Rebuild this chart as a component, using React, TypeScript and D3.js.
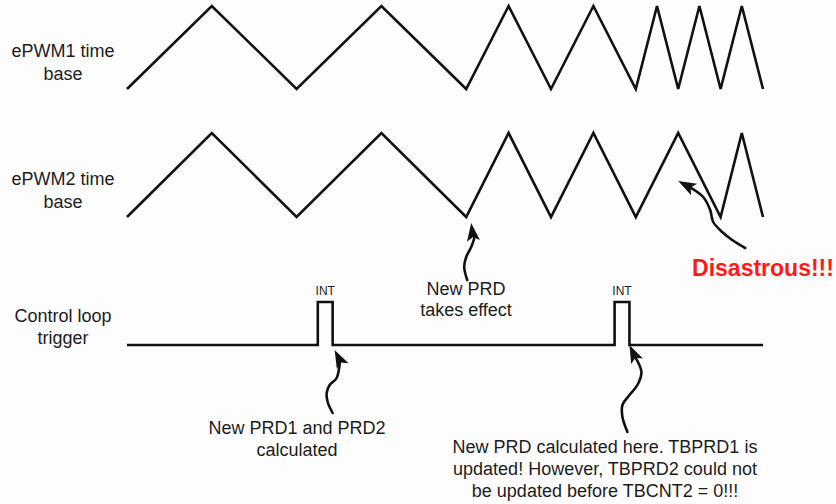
import React from "react";
import * as d3 from "d3";

// time in units of a quarter of the original half-period
const pwm1Times = [0, 4, 8, 12, 16, 18, 20, 22, 24, 25, 26, 27, 28, 29, 30];
const pwm1Levels = [0, 1, 0, 1, 0, 1, 0, 1, 0, 1, 0, 1, 0, 1, 0];
const pwm2Times = [0, 4, 8, 12, 16, 18, 20, 22, 24, 26, 28, 29, 30];
const pwm2Levels = [0, 1, 0, 1, 0, 1, 0, 1, 0, 1, 0, 1, 0];
const intStarts = [9, 23];
const intWidth = 0.7;
const laneLabels = [["ePWM1 time", "base"], ["ePWM2 time", "base"], ["Control loop", "trigger"]];

const W = 836;
const H = 504;
const FONT = "'Liberation Sans', Arial, sans-serif";

const x = d3.scaleLinear().domain([0, 30]).range([127, 763]);
const y1 = d3.scaleLinear().domain([0, 1]).range([89, 6]);
const y2 = d3.scaleLinear().domain([0, 1]).range([217, 133]);
const y3 = d3.scaleLinear().domain([0, 1]).range([345, 302]);

// hand drawn arrows: head direction, then the wavy tail (pixel offsets from tip)
const arrows: [number, number][][] = [
  [[1, 8], [1, 8], [3, 14], [0, 24], [-5, 34], [-7, 44], [-4, 57]],
  [[19, 10], [19, 11], [25, 16], [32, 29], [35, 41], [44, 51], [54, 59], [67, 67]],
  [[8, 16], [7, 18], [2, 28], [-5, 35], [-8, 43], [-7, 52], [-2, 63]],
  [[7, 15], [8, 17], [12, 27], [8, 40], [0, 50], [-7, 60], [-7, 72], [-2, 87]]
];
const arrowTips: [number, number][] = [
  [x(16) + 5, y2(0) + 6],
  [x(26), 181],
  [x(9 + intWidth) + 2, y3(0) + 5],
  [x(23 + intWidth) + 0, y3(0) + 0]
];

const App: React.FC = () => {
  const line = d3.line<[number, number]>().x(d => d[0]).y(d => d[1]);
  const smooth = d3.line<[number, number]>().x(d => d[0]).y(d => d[1]).curve(d3.curveCatmullRom);

  const pwm1 = pwm1Times.map((t, i) => [x(t), y1(pwm1Levels[i])] as [number, number]);
  const pwm2 = pwm2Times.map((t, i) => [x(t), y2(pwm2Levels[i])] as [number, number]);

  const trig: [number, number][] = [[x(0), y3(0)]];
  intStarts.forEach(s => {
    trig.push([x(s), y3(0)], [x(s), y3(1)], [x(s + intWidth), y3(1)], [x(s + intWidth), y3(0)]);
  });
  trig.push([x(30), y3(0)]);

  const labelY = [[57, 80], [185, 208], [322, 344]];

  return (
    <svg width={W} height={H} style={{ position: "absolute", left: 0, top: 0, background: "#fdfdfd" }}>
      <rect width={W} height={H} fill="#fdfdfd" />
      <g fill="none" stroke="#111" strokeWidth={2.6} strokeLinejoin="miter">
        <path d={line(pwm1) || ""} />
        <path d={line(pwm2) || ""} />
        <path d={line(trig) || ""} />
      </g>

      {laneLabels.map((l, i) => (
        <text key={i} x={63} textAnchor="middle" fontFamily={FONT} fontSize={18} fill="#1c1c1c">
          <tspan x={63} y={labelY[i][0]}>{l[0]}</tspan>
          <tspan x={63} y={labelY[i][1]}>{l[1]}</tspan>
        </text>
      ))}

      {intStarts.map((s, i) => (
        <text key={i} x={x(s + intWidth / 2)} y={295} textAnchor="middle" fontFamily={FONT} fontSize={12} fill="#1c1c1c">INT</text>
      ))}

      {arrows.map((pts, i) => {
        const [tx, ty] = arrowTips[i];
        const [dx, dy] = pts[0];
        const len = Math.hypot(dx, dy);
        const ux = dx / len, uy = dy / len;
        const hl = 18, hw = 6.5;
        const bx = tx + ux * hl, by = ty + uy * hl;
        const head = `M${tx},${ty}L${bx - uy * hw},${by + ux * hw}L${bx - ux * 4},${by - uy * 4}L${bx + uy * hw},${by - ux * hw}Z`;
        const tail = pts.slice(1).map(p => [tx + p[0], ty + p[1]] as [number, number]);
        tail[0] = [tx + ux * 12, ty + uy * 12];
        return (
          <g key={i}>
            <path d={smooth(tail) || ""} fill="none" stroke="#111" strokeWidth={2.6} strokeLinecap="round" />
            <path d={head} fill="#111" />
          </g>
        );
      })}

      <text x={763} y={276} textAnchor="middle" fontFamily={FONT} fontSize={23} fontWeight="bold" fill="#ff1a1a">Disastrous!!!</text>

      <text textAnchor="middle" fontFamily={FONT} fontSize={18} fill="#1c1c1c">
        <tspan x={466} y={295}>New PRD</tspan>
        <tspan x={466} y={316}>takes effect</tspan>
      </text>

      <text textAnchor="middle" fontFamily={FONT} fontSize={18} fill="#1c1c1c">
        <tspan x={297} y={434}>New PRD1 and PRD2</tspan>
        <tspan x={297} y={456}>calculated</tspan>
      </text>

      <text textAnchor="middle" fontFamily={FONT} fontSize={18} fill="#1c1c1c">
        <tspan x={605} y={453}>New PRD calculated here. TBPRD1 is</tspan>
        <tspan x={605} y={475}>updated! However, TBPRD2 could not</tspan>
        <tspan x={605} y={497}>be updated before TBCNT2 = 0!!!</tspan>
      </text>
    </svg>
  );
};

export default App;
